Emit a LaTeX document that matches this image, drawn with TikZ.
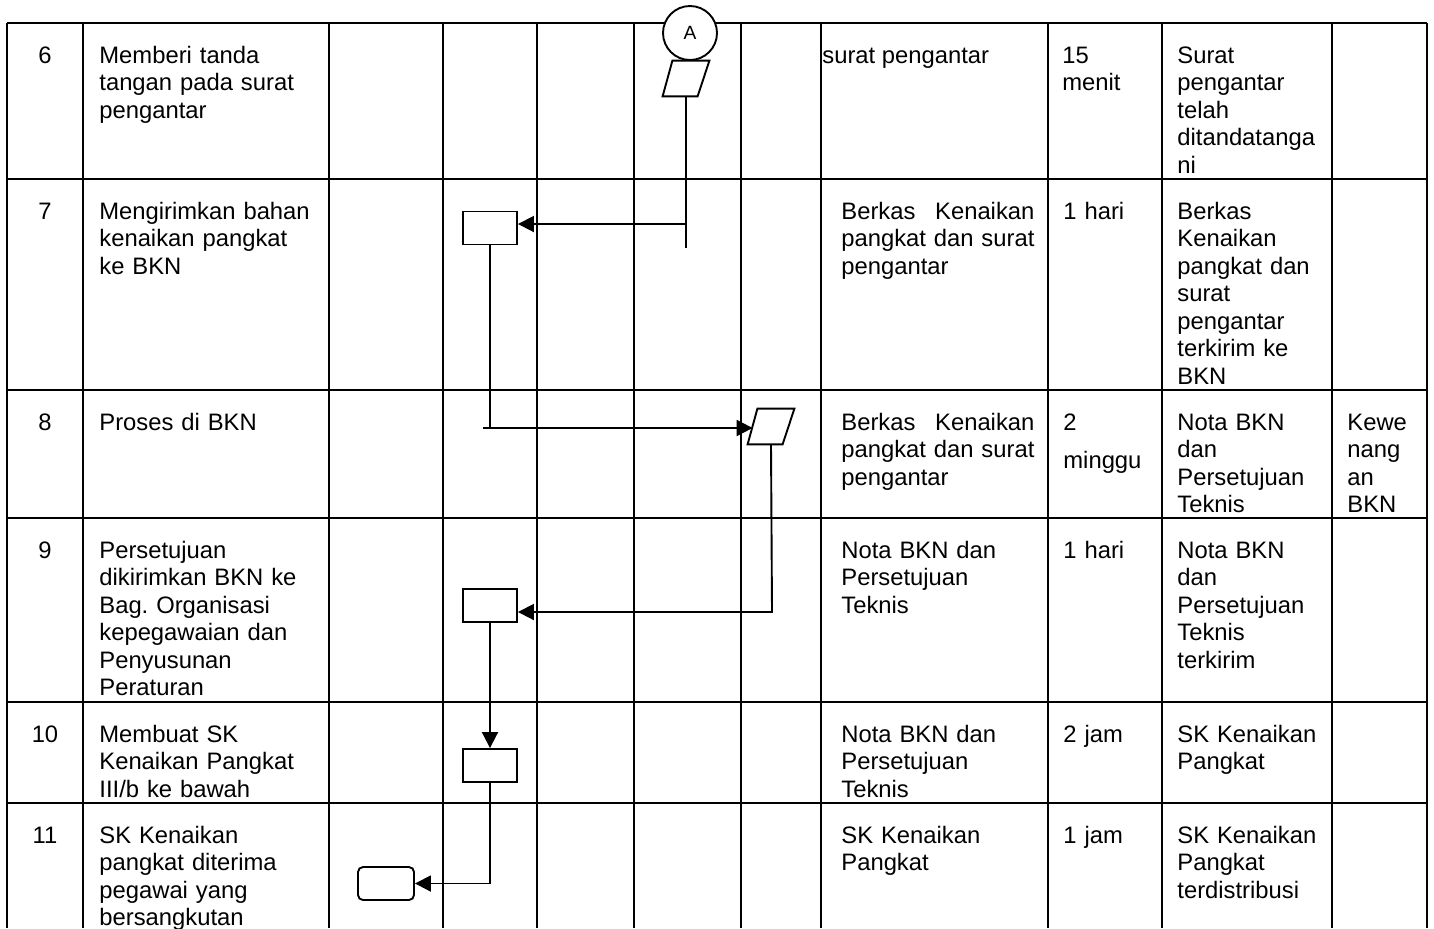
\documentclass[tikz,border=0pt]{standalone}
\usepackage{fontspec}
\setmainfont{Liberation Sans}
\usetikzlibrary{arrows.meta}
\begin{document}
\frenchspacing
\begin{tikzpicture}[x=0.5pt,y=-0.5pt,
  grid/.style={line width=0.55pt},
  flow/.style={line width=0.95pt},
  arr/.style={flow,-{Triangle[length=8pt,width=8pt]}},
  proc/.style={draw,line width=0.95pt,minimum width=27pt,minimum height=16.5pt,inner sep=0pt,fill=white},
  parabox/.style={inner sep=0pt,minimum width=23pt,minimum height=17.5pt},
  txt/.style={anchor=base west,inner sep=0pt,align=left,font=\fontsize{11.9pt}{13.75pt}\selectfont\frenchspacing},
  num/.style={anchor=base,inner sep=0pt,font=\fontsize{11.9pt}{13.75pt}\selectfont},
  desc/.style={txt,text width=115pt},
  docc/.style={txt,text width=100pt},
  dur/.style={txt,text width=45pt},
  outc/.style={txt,text width=78pt},
  lastc/.style={txt,text width=40pt},
]
\useasboundingbox (0,0) rectangle (1434,928);

% table grid
\foreach \y in {23,179,390,518,702,803} \draw[grid] (7,\y) -- (1427,\y);
\foreach \x in {7,83,329,443,537,634,741,821,1048,1162,1332,1427} \draw[grid] (\x,23) -- (\x,928);

% row 6
\node[num] (n6) at (45,63) {6};
\node[desc] (d6) at (99,63) {Memberi tanda\\tangan pada surat\\pengantar};
\node[txt] (k6) at (822,63) {surat pengantar};
\node[dur] (w6) at (1062,63) {15\\menit};
\node[outc] (o6) at (1177,63) {Surat\\pengantar\\telah\\ditandatanga\\ni};

% row 7
\node[num] (n7) at (45,219) {7};
\node[desc] (d7) at (99,219) {Mengirimkan bahan\\kenaikan pangkat\\ke BKN};
\node[docc] (k7) at (841,219) {\leavevmode\hbox to 96.5pt{Berkas\hfill Kenaikan}\\\leavevmode\hbox to 96.5pt{pangkat\hfill dan\hfill surat}\\pengantar};
\node[dur] (w7) at (1063,219) {1 hari};
\node[outc] (o7) at (1177,219) {Berkas\\Kenaikan\\pangkat dan\\surat\\pengantar\\terkirim ke\\BKN};

% row 8
\node[num] (n8) at (45,430) {8};
\node[desc] (d8) at (99,430) {Proses di BKN};
\node[docc] (k8) at (841,430) {\leavevmode\hbox to 96.5pt{Berkas\hfill Kenaikan}\\\leavevmode\hbox to 96.5pt{pangkat\hfill dan\hfill surat}\\pengantar};
\node[dur] (w8) at (1063,430) {2\\[5.25pt]minggu};
\node[outc] (o8) at (1177,430) {Nota BKN\\dan\\Persetujuan\\Teknis};
\node[lastc] (l8) at (1347,430) {Kewe\\nang\\an\\BKN};

% row 9
\node[num] (n9) at (45,558) {9};
\node[desc] (d9) at (99,558) {Persetujuan\\dikirimkan BKN ke\\Bag. Organisasi\\kepegawaian dan\\Penyusunan\\Peraturan};
\node[docc] (k9) at (841,558) {Nota BKN dan\\Persetujuan\\Teknis};
\node[dur] (w9) at (1063,558) {1 hari};
\node[outc] (o9) at (1177,558) {Nota BKN\\dan\\Persetujuan\\Teknis\\terkirim};

% row 10
\node[num] (n10) at (45,742) {10};
\node[desc] (d10) at (99,742) {Membuat SK\\Kenaikan Pangkat\\III/b ke bawah};
\node[docc] (k10) at (841,742) {Nota BKN dan\\Persetujuan\\Teknis};
\node[dur] (w10) at (1063,742) {2 jam};
\node[outc] (o10) at (1177,742) {SK Kenaikan\\Pangkat};

% row 11
\node[num] (n11) at (45,843) {11};
\node[desc] (d11) at (99,843) {SK Kenaikan\\pangkat diterima\\pegawai yang\\bersangkutan};
\node[docc] (k11) at (841,843) {SK Kenaikan\\Pangkat};
\node[dur] (w11) at (1063,843) {1 jam};
\node[outc] (o11) at (1177,843) {SK Kenaikan\\Pangkat\\terdistribusi};

% flow shapes
\node[circle,draw,flow,fill=white,minimum size=27pt,inner sep=0pt,font=\fontsize{9.6pt}{11pt}\selectfont] (A) at (690,33) {A};
\node[parabox] (P1) at (686,78.5) {};
\draw[flow,fill=white] (P1.south west) -- ++(35,0) -- (P1.north east) -- ++(-37,0) -- cycle;
\node[proc] (B7) at (490,228) {};
\node[parabox] (P2) at (771,426.5) {};
\draw[flow,fill=white] (P2.south west) -- ++(35,0) -- (P2.north east) -- ++(-37,0) -- cycle;
\node[proc] (B9) at (490,605.5) {};
\node[proc] (B10) at (490,765.5) {};
\node[proc,rounded corners=2.5pt,minimum width=28pt] (R11) at (386,883.5) {};

% connectors
\coordinate (j1) at (686,224);
\coordinate (t1) at (686,248);
\draw[flow] (P1.south) -- (t1);
\draw[arr] (j1) -- (B7.east |- j1);

\coordinate (s2) at (483,428);
\coordinate (e2) at ([xshift=2.5pt]P2.west |- s2);
\draw[flow] (B7.south) -- (B7.south |- s2);
\draw[arr] (s2) -- (e2);

\coordinate (j3) at (772,612);
\draw[arr] (P2.south) -- (j3) -- (B9.east |- j3);

\draw[arr] (B9.south) -- (B10.north);
\draw[arr] (B10.south) |- (R11.east);
\end{tikzpicture}
\end{document}
